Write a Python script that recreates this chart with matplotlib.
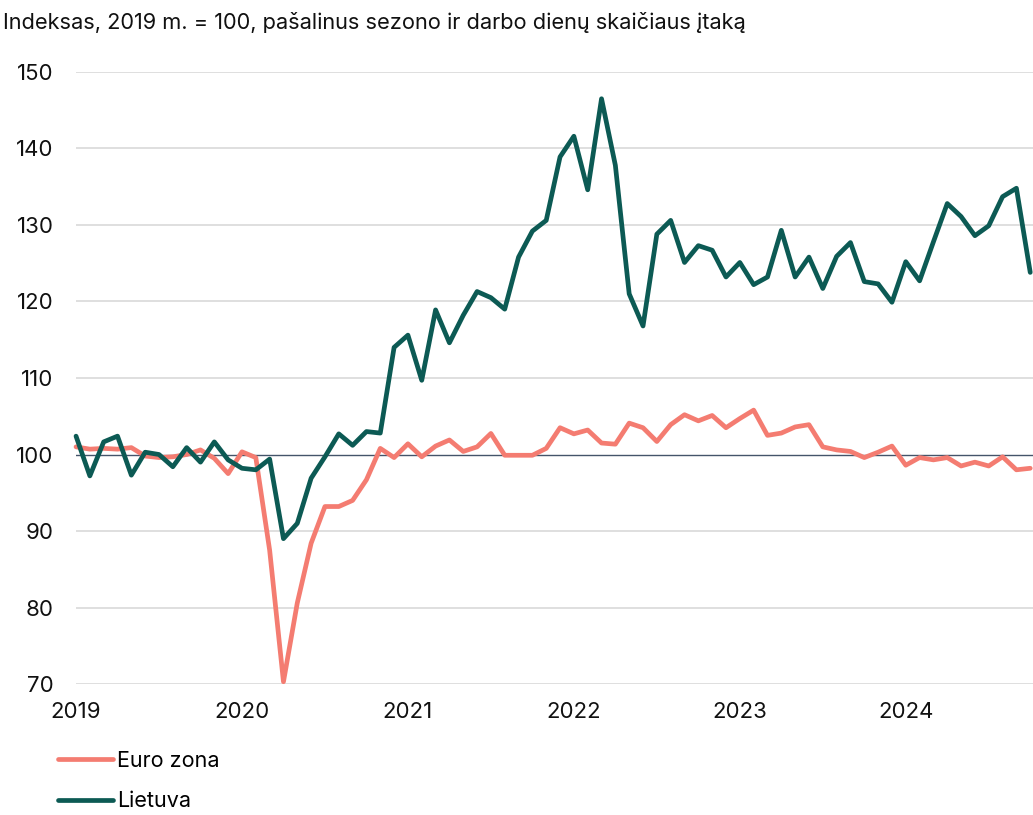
import numpy as np
import matplotlib.pyplot as plt

plt.rcParams['font.family'] = ['Inter', 'DejaVu Sans']

# Monthly index, 2019-01 .. 2024-10 (2019 = 100, seasonally adjusted)
euro_zona = [
    101.0, 100.7, 100.8, 100.7, 100.9, 99.8, 99.6, 99.7, 100.0, 100.6, 99.5, 97.5,
    100.35, 99.6, 87.5, 70.3, 80.6, 88.4, 93.2, 93.2, 94.0, 96.7, 100.8, 99.6,
    101.4, 99.7, 101.1, 101.9, 100.4, 101.0, 102.75, 99.9, 99.9, 99.9, 100.8, 103.5,
    102.7, 103.2, 101.5, 101.35, 104.1, 103.5, 101.7, 103.9, 105.2, 104.4, 105.1, 103.5,
    104.7, 105.8, 102.5, 102.8, 103.6, 103.9, 101.0, 100.6, 100.4, 99.6, 100.3, 101.1,
    98.6, 99.6, 99.3, 99.6, 98.5, 99.0, 98.5, 99.7, 98.0, 98.2,
]
lietuva = [
    102.4, 97.2, 101.65, 102.4, 97.3, 100.3, 100.0, 98.4, 100.9, 99.0, 101.65, 99.3,
    98.2, 98.0, 99.4, 89.0, 91.0, 96.9, 99.7, 102.7, 101.2, 103.0, 102.8, 114.0,
    115.6, 109.7, 118.9, 114.6, 118.2, 121.3, 120.5, 119.0, 125.8, 129.2, 130.6, 138.9,
    141.6, 134.6, 146.5, 137.8, 121.0, 116.8, 128.8, 130.6, 125.1, 127.3, 126.7, 123.2,
    125.1, 122.2, 123.2, 129.3, 123.2, 125.8, 121.7, 125.9, 127.7, 122.6, 122.3, 119.9,
    125.2, 122.7, 127.8, 132.8, 131.1, 128.6, 129.9, 133.7, 134.8, 123.8,
]
years = ['2019', '2020', '2021', '2022', '2023', '2024']
y_ticks = [70, 80, 90, 100, 110, 120, 130, 140, 150]

months = np.arange(len(lietuva))

fig = plt.figure(figsize=(10.33, 8.15), dpi=100)
ax = fig.add_axes([0.0736, 0.1607, 0.9264, 0.751])

for v in y_ticks:
    if v != 100:
        ax.axhline(v, color='#d9d9d9', lw=1.2, zorder=1)
ax.axhline(100, color='#44546a', lw=1.0, zorder=2)

ax.plot(months, euro_zona, color='#f47c71', lw=3.4, label='Euro zona',
        solid_joinstyle='round', solid_capstyle='round', clip_on=False, zorder=3)
ax.plot(months, lietuva, color='#0c5a54', lw=3.4, label='Lietuva',
        solid_joinstyle='round', solid_capstyle='round', clip_on=False, zorder=4)

ax.set_xlim(0, 69.2)
ax.set_ylim(70, 150)
ax.set_yticks(y_ticks)
ax.set_xticks(np.arange(len(years)) * 12)
ax.set_xticklabels(years)
ax.tick_params(axis='both', length=0, labelsize=16, colors='#111111')
ax.tick_params(axis='y', pad=16)
ax.tick_params(axis='x', pad=13)
for s in ax.spines.values():
    s.set_visible(False)

fig.text(0.003, 0.985, 'Indeksas, 2019 m. = 100, pašalinus sezono ir darbo dienų skaičiaus įtaką',
         fontsize=15.7, color='#111111', va='top', ha='left')

fig.legend(loc='upper left', bbox_to_anchor=(0.056, 0.079), frameon=False,
           fontsize=15.5, handlelength=2.55, handletextpad=0.2, labelspacing=0.95,
           borderaxespad=0, borderpad=0)

fig.savefig('out.png', dpi=100)
